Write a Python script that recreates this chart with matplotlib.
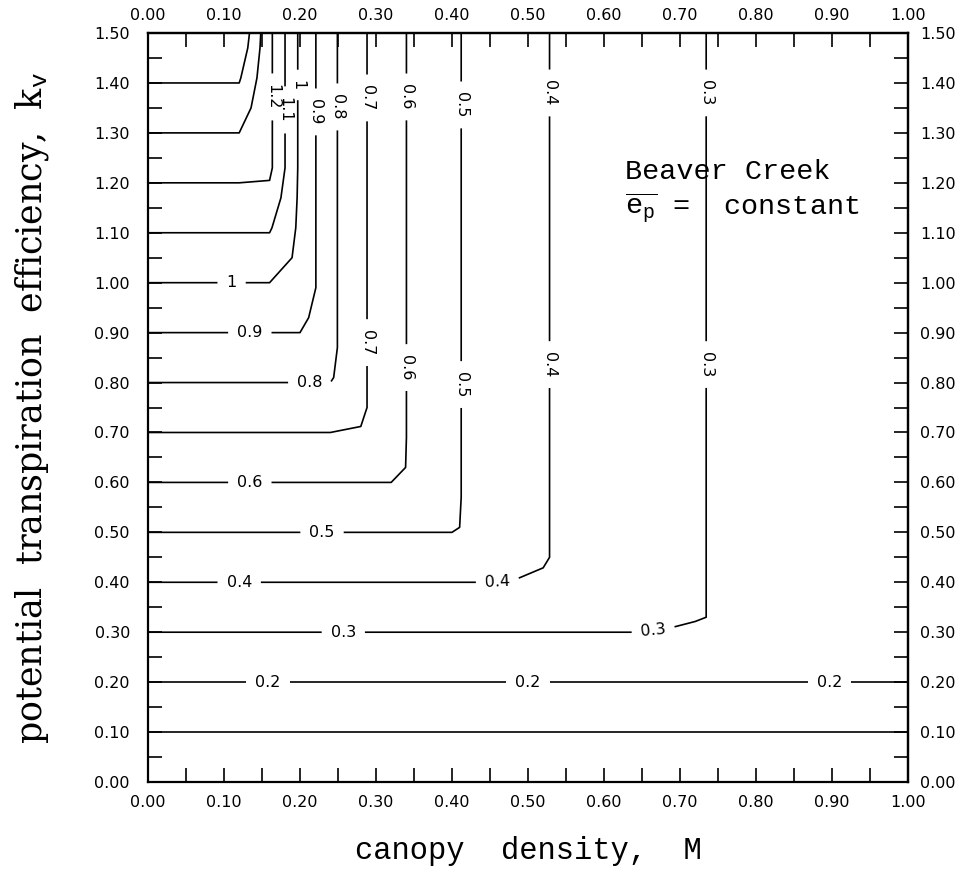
import numpy as np
import matplotlib
matplotlib.use('Agg')
import matplotlib.pyplot as plt
from matplotlib.ticker import MultipleLocator

plt.rcParams['mathtext.fontset'] = 'custom'
plt.rcParams['mathtext.rm'] = 'Liberation Mono'
plt.rcParams['mathtext.it'] = 'Liberation Mono'
plt.rcParams['font.family'] = ['DejaVu Sans']

# contour levels drawn: plain ones and labelled ones
plain_levels = [0.1, 1.3, 1.4]
label_levels = [0.2, 0.3, 0.4, 0.5, 0.6, 0.7, 0.8, 0.9, 1.0, 1.1, 1.2]

# canopy density M at which each contour turns vertical
vert_levels = [0.3, 0.4, 0.5, 0.6, 0.7, 0.8, 0.9, 1.0, 1.1, 1.2, 1.3]
vert_M = [0.734, 0.528, 0.411, 0.339, 0.288, 0.247, 0.221, 0.196, 0.179, 0.164, 0.147]

# coarse grid the surface was evaluated on
m_grid = np.arange(0.0, 1.0001, 0.04)
k_grid = np.arange(-0.03, 1.60, 0.06)

# where the inline labels sit (M, k_v)
label_pos = [(0.158, 0.2), (0.50, 0.2), (0.897, 0.2),
             (0.257, 0.3), (0.665, 0.3), (0.734, 0.836), (0.734, 1.38),
             (0.12, 0.4), (0.46, 0.4), (0.528, 0.836), (0.528, 1.38),
             (0.229, 0.5), (0.411, 0.796), (0.411, 1.356),
             (0.134, 0.6), (0.339, 0.83), (0.339, 1.372),
             (0.288, 0.88), (0.288, 1.37),
             (0.213, 0.805), (0.247, 1.352),
             (0.134, 0.9), (0.221, 1.342),
             (0.11, 1.0), (0.196, 1.396),
             (0.179, 1.346), (0.164, 1.372)]

TICK_FS = 11.5


def level_limit(m):
    # limit set by canopy density, linear in 1/M between the read points
    x = 1.0 / np.maximum(m, 0.02)
    xs = 1.0 / np.array(vert_M)
    ys = np.array(vert_levels)
    g = np.interp(x, xs, ys)
    lo = x < xs[0]
    g[lo] = ys[0] + (x[lo] - xs[0]) * (ys[1] - ys[0]) / (xs[1] - xs[0])
    hi = x > xs[-1]
    g[hi] = ys[-1] + (x[hi] - xs[-1]) * (ys[-1] - ys[-2]) / (xs[-1] - xs[-2])
    return g


M, K = np.meshgrid(m_grid, k_grid)
Z = np.minimum(K, level_limit(M))

fig = plt.figure(figsize=(9.61, 8.76), dpi=100)
ax = fig.add_axes([0.154, 0.1073, 0.7908, 0.855])

ax.contour(M, K, Z, levels=plain_levels, colors='k', linewidths=1.2)
cs = ax.contour(M, K, Z, levels=label_levels, colors='k', linewidths=1.2)
ax.clabel(cs, manual=label_pos, inline=True, inline_spacing=9, fmt='%g',
          fontsize=TICK_FS)

ax.set_xlim(0, 1.0)
ax.set_ylim(0, 1.5)
for s in ax.spines.values():
    s.set_linewidth(1.6)

ax.xaxis.set_major_locator(MultipleLocator(0.1))
ax.xaxis.set_minor_locator(MultipleLocator(0.05))
ax.yaxis.set_major_locator(MultipleLocator(0.1))
ax.yaxis.set_minor_locator(MultipleLocator(0.05))
ax.xaxis.set_major_formatter('{x:.2f}')
ax.yaxis.set_major_formatter('{x:.2f}')
ax.tick_params(which='both', direction='in', length=10, width=1.2,
               top=False, right=False, labelsize=TICK_FS)
ax.tick_params(axis='x', pad=9)
ax.tick_params(axis='y', pad=13)

top = ax.secondary_xaxis('top')
top.xaxis.set_major_locator(MultipleLocator(0.1))
top.xaxis.set_minor_locator(MultipleLocator(0.05))
top.xaxis.set_major_formatter('{x:.2f}')
top.tick_params(which='both', direction='in', length=10, width=1.2,
                labelsize=TICK_FS, pad=7)
top.spines['top'].set_linewidth(1.6)

right = ax.secondary_yaxis('right')
right.yaxis.set_major_locator(MultipleLocator(0.1))
right.yaxis.set_minor_locator(MultipleLocator(0.05))
right.yaxis.set_major_formatter('{x:.2f}')
right.tick_params(which='both', direction='in', length=10, width=1.2,
                  labelsize=TICK_FS, pad=9)
right.spines['right'].set_linewidth(1.6)

ax.set_xlabel('canopy  density,  M', family='Liberation Mono', fontsize=22)
ax.xaxis.set_label_coords(0.5, -0.072)
ax.set_ylabel(r'potential  transpiration  efficiency,  k$_{\mathrm{v}}$',
              family='DejaVu Serif', fontsize=25)
ax.yaxis.set_label_coords(-0.127, 0.5)

ax.text(0.628, 1.208, 'Beaver Creek', family='Liberation Mono',
        fontsize=20.5, va='baseline')
ax.text(0.628, 1.138, r'$\overline{\mathrm{e}_{\mathrm{p}}}$ =  constant',
        family='Liberation Mono', fontsize=20.5, va='baseline')

fig.savefig('out.png', dpi=100)
